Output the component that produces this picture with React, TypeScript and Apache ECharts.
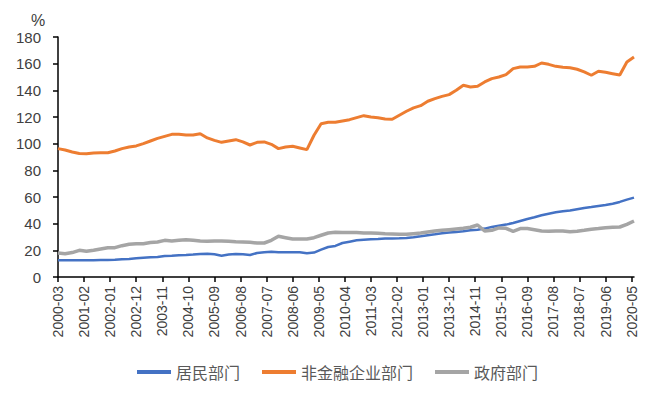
import React, { useEffect, useRef } from "react";
import * as echarts from "echarts";

// Quarterly observations, 2000-03 … 2020-06 (82 quarters)
const household = [
  12.5, 12.5, 12.5, 12.5, 12.5, 12.6, 12.7, 12.8, 13, 13.3, 13.5, 14, 14.5, 14.8, 15, 15.8, 16, 16.3, 16.5, 16.8,
  17.3, 17.5, 17, 16, 16.8, 17.3, 17, 16.5, 18, 18.5, 19, 18.5, 18.5, 18.5, 18.5, 17.8, 18.3, 20.5, 22.5, 23.3, 25.5,
  26.5, 27.5, 28, 28.3, 28.5, 28.8, 28.8, 29, 29.3, 29.8, 30.5, 31.3, 32, 32.8, 33.3, 33.8, 34.3, 35, 35.5, 36.3,
  37.5, 38.5, 39.3, 40.5, 42, 43.5, 44.8, 46.3, 47.5, 48.5, 49.3, 49.8, 50.8, 51.8, 52.5, 53.3, 54, 55, 56.3, 58, 59.5,
];
const corporate = [
  96.3, 95.3, 93.8, 92.6, 92.5, 93, 93.2, 93.2, 94.5, 96.3, 97.5, 98.3, 100, 102, 104, 105.5, 107, 107, 106.5, 106.5,
  107.5, 104.3, 102.5, 101, 102, 103, 101.3, 99, 101, 101.3, 99.5, 96.3, 97.5, 98, 96.8, 95.5, 106.3, 115, 116, 116, 117,
  118, 119.5, 121, 120, 119.5, 118.5, 118.3, 121.3, 124.3, 126.8, 128.5, 131.8, 133.8, 135.5, 136.8, 140, 143.8, 142.5,
  143, 146.3, 148.8, 150, 151.8, 156.3, 157.5, 157.5, 158, 160.5, 159.5, 158, 157.3, 157, 155.8, 153.8, 151.3, 154.3,
  153.5, 152.5, 151.5, 161.3, 165,
];
const government = [
  18, 17.5, 18.3, 20, 19.3, 20, 21, 22, 22, 23.5, 24.5, 25, 25, 25.8, 26.3, 27.5, 27, 27.5, 28, 27.5, 27, 26.8, 27, 27,
  26.8, 26.5, 26.3, 26, 25.5, 25.5, 27.5, 30.5, 29.5, 28.5, 28.5, 28.5, 29.5, 31.3, 33, 33.5, 33.3,
  33.3, 33.3, 33, 33, 32.8, 32.5, 32.3, 32, 32, 32.5, 33, 33.8, 34.5, 35, 35.5, 36, 36.5, 37.3, 39, 34.5, 35, 36.8,
  36.5, 34.3, 36.3, 36.3, 35.5, 34.5, 34.3, 34.5, 34.5, 34, 34.3, 35, 35.8, 36.3, 37, 37.3, 37.5, 39.5, 42,
];
const seriesNames = ["居民部门", "非金融企业部门", "政府部门"];

// Monthly category axis 2000-03 … 2020-06
const months: string[] = [];
for (let m = 0; m <= 243; m++) {
  const y = 2000 + Math.floor((2 + m) / 12);
  const mo = ((2 + m) % 12) + 1;
  months.push(`${y}-${mo < 10 ? "0" + mo : mo}`);
}

function toMonthly(q: number[]) {
  const arr: (number | null)[] = months.map(() => null);
  q.forEach((v, i) => {
    arr[i * 3] = v;
  });
  return arr;
}

export default function App() {
  const ref = useRef<HTMLDivElement>(null);
  useEffect(() => {
    if (!ref.current) return;
    const chart = echarts.init(ref.current, undefined, { renderer: "svg" });
    const axisColor = "#000000";
    chart.setOption({
      animation: false,
      backgroundColor: "#ffffff",
      textStyle: { fontFamily: "Liberation Sans, Arial, sans-serif" },
      grid: { left: 58, right: 32, top: 37, bottom: 123, containLabel: false },
      graphic: [
        {
          type: "text",
          left: 31,
          top: 12,
          style: { text: "%", fontSize: 16, fill: "#404040", fontFamily: "Liberation Sans, Arial, sans-serif" },
        },
      ],
      legend: {
        left: 137,
        top: 364,
        padding: 0,
        itemWidth: 34,
        itemHeight: 4,
        itemGap: 22,
        icon: "rect",
        textStyle: { fontSize: 16, color: "#595959", fontFamily: "Noto Sans CJK SC, sans-serif" },
        data: seriesNames,
      },
      xAxis: {
        type: "category",
        data: months,
        boundaryGap: false,
        axisLine: { lineStyle: { color: axisColor, width: 1.5 } },
        axisTick: { interval: 10, length: 5, lineStyle: { color: axisColor, width: 1.5 } },
        axisLabel: {
          interval: 10,
          rotate: 90,
          fontSize: 14,
          color: "#404040",
          margin: 9,
        },
        splitLine: { show: false },
      },
      yAxis: {
        type: "value",
        min: 0,
        max: 180,
        interval: 20,
        axisLine: { show: true, lineStyle: { color: axisColor, width: 1.5 } },
        axisTick: { show: true, length: 5, lineStyle: { color: axisColor, width: 1.5 } },
        axisLabel: { fontSize: 15, color: "#404040", margin: 17 },
        splitLine: { show: false },
      },
      series: [
        {
          name: seriesNames[0],
          type: "line",
          data: toMonthly(household),
          connectNulls: true,
          showSymbol: false,
          symbol: "none",
          lineStyle: { color: "#4472C4", width: 2.5 },
          itemStyle: { color: "#4472C4" },
        },
        {
          name: seriesNames[1],
          type: "line",
          data: toMonthly(corporate),
          connectNulls: true,
          showSymbol: false,
          symbol: "none",
          lineStyle: { color: "#ED7D31", width: 3 },
          itemStyle: { color: "#ED7D31" },
        },
        {
          name: seriesNames[2],
          type: "line",
          data: toMonthly(government),
          connectNulls: true,
          showSymbol: false,
          symbol: "none",
          lineStyle: { color: "#A5A5A5", width: 3.5 },
          itemStyle: { color: "#A5A5A5" },
        },
      ],
    });
    return () => chart.dispose();
  }, []);
  return (
    <div
      ref={ref}
      style={{ position: "fixed", left: 0, top: 0, width: 666, height: 400, background: "#fff" }}
    />
  );
}
